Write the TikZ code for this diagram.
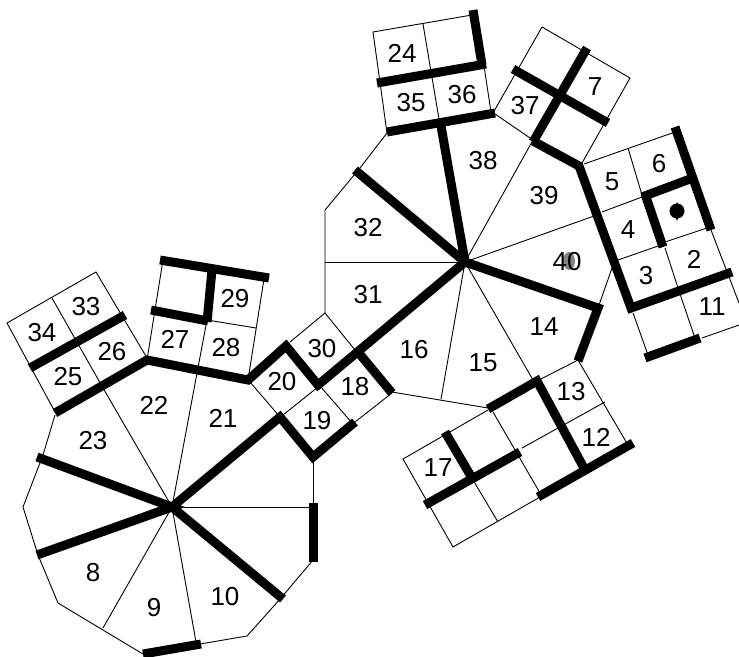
\documentclass[tikz,border=0pt]{standalone}
\usepackage{fontspec}
\setmainfont{Liberation Sans}
\tikzset{
  thin line/.style={draw=black,line width=0.9pt},
  thick wall/.style={draw=black,line width=9pt,line cap=butt,line join=miter},
  num/.style={inner sep=0pt,font=\fontsize{26}{26}\selectfont,text=black}
}
\begin{document}
\begin{tikzpicture}[x=1pt,y=-1pt]
\useasboundingbox (0,0) rectangle (739,656);
\coordinate (A) at (465,262);
\coordinate (B) at (172,507);
% thin lines
\draw[thin line] (325,262)--(A);
\draw[thin line] (325,313)--(325,210)--(360,168)--(387,133);
\draw[thin line] (495,114)--(533,140);
\draw[thin line] (A)--(533,140);
\draw[thin line] (A)--(594,216);
\draw[thin line] (598,308)--(612,268);
\draw[thin line] (A)--(533,380);
\draw[thin line] (A)--(441,399);
\draw[thin line] (392,392)--(488,408);
\draw[thin line] (537,381)--(578,360)--(628,445);
\draw[thin line] (522,448)--(605,402);
\draw[thin line] (488,410)--(403,459)--(453,547)--(540,497);
\draw[thin line] (493,412)--(540,493);
\draw[thin line] (473,480)--(498,522);
\draw[thin line] (313,457)--(313,505);
\draw[thin line] (B)--(313,507);
\draw[thin line] (313,560)--(281,598)--(247,636)--(200,644);
\draw[thin line] (143,654)--(58,603)--(38,555)--(23,507)--(43,455)--(55,415);
\draw[thin line] (B)--(103,388);
\draw[thin line] (B)--(197,373);
\draw[thin line] (B)--(103,628);
\draw[thin line] (B)--(196,642);
\draw[thin line] (55,412)--(7,323)--(96,272)--(147,358);
\draw[thin line] (52,298)--(103,388);
\draw[thin line] (163,260)--(147,360);
\draw[thin line] (264,279)--(248,380);
\draw[thin line] (207,320)--(256,328);
\draw[thin line] (207,320)--(197,373);
\draw[thin line] (290,342)--(325,313)--(355,350);
\draw[thin line] (318,387)--(283,415);
\draw[thin line] (250,382)--(280,417);
\draw[thin line] (320,386)--(353,424);
\draw[thin line] (355,422)--(392,393);
\draw[thin line] (387,133)--(373,32)--(472,15);
\draw[thin line] (423,24)--(440,125);
\draw[thin line] (484,66)--(491,112);
\draw[thin line] (493,113)--(542,27)--(630,78)--(582,163);
\draw[thin line] (584,164)--(675,132);
\draw[thin line] (602,212)--(642,197);
\draw[thin line] (628,148)--(642,195);
\draw[thin line] (618,260)--(658,246);
\draw[thin line] (665,242)--(707,228);
\draw[thin line] (665,248)--(681,297)--(695,338);
\draw[thin line] (711,230)--(739,303);
\draw[thin line] (633,313)--(648,355);
\draw[thin line] (702,338)--(739,325);
% thick walls
\draw[thick wall] (355,170)--(A);
\draw[thick wall] (387,132)--(495,113);
\draw[thick wall] (441,126)--(A);
\draw[thick wall] (533,141)--(579,166)--(631,308)--(732,272);
\draw[thick wall] (A)--(598,308)--(578,361);
\draw[thick wall] (488,409)--(537,381)--(585,470);
\draw[thick wall] (538,497)--(633,443);
\draw[thick wall] (425,505)--(520,452);
\draw[thick wall] (445,432)--(472,478);
\draw[thick wall] (A)--(318,385)--(286,346)--(248,380)--(147,360)--(55,413);
\draw[thick wall] (358,352)--(392,393);
\draw[thick wall] (B)--(280,417)--(313,457)--(355,422);
\draw[thick wall] (313,503)--(313,562);
\draw[thick wall] (B)--(283,599);
\draw[thick wall] (143,654)--(201,644);
\draw[thick wall] (37,555)--(B)--(37,457);
\draw[thick wall] (30,368)--(125,315);
\draw[thick wall] (160,260)--(269,278);
\draw[thick wall] (212,270)--(207,322);
\draw[thick wall] (151,310)--(208,321);
\draw[thick wall] (473,10)--(482,65);
\draw[thick wall] (377,83)--(486,64);
\draw[thick wall] (513,69)--(608,123);
\draw[thick wall] (587,48)--(533,142);
\draw[thick wall] (675,127)--(711,230);
\draw[thick wall] (642,197)--(690,179);
\draw[thick wall] (645,194)--(663,247);
\draw[thick wall] (645,358)--(700,338);
% marks
\fill[black] (677,211) circle (7.5);
\fill[black] (677,202) -- (679,206) -- (675,206) -- cycle;
\fill[black] (677,221) -- (679,216) -- (675,216) -- cycle;
\fill[black!48] (569,261) ellipse (6 and 9);
% labels
\foreach \t/\x/\y in {2/694/259,3/646/276,4/628/230,5/612/182,6/659/164,7/595/87,
 24/402/53,35/411/103,36/462/95,37/525/106,38/483/161,39/544/196,40/567/262,11/712/307,
 32/368/228,31/368/295,14/544/327,16/414/350,15/483/363,13/571/392,12/596/437,17/438/468,
 18/355/387,19/317/421,30/322/349,20/282/382,21/223/418,22/154/405,23/93/441,
 8/93/573,9/154/608,10/225/597,25/68/377,26/112/352,33/86/307,34/42/333,27/175/339,28/226/348,29/235/299}
 \node[num] (n\t) at (\x,\y) {\t};
\end{tikzpicture}
\end{document}
